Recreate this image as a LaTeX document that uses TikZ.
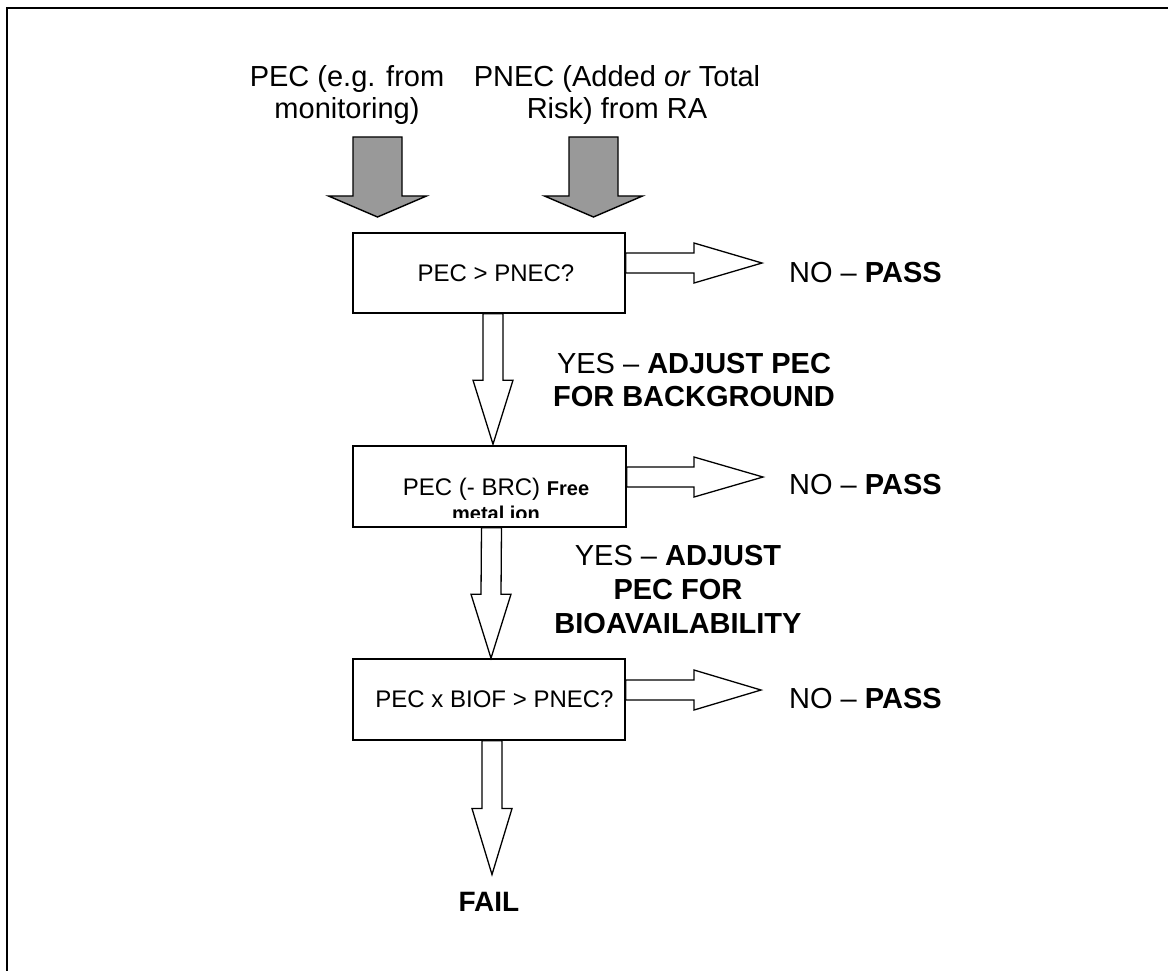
\documentclass[tikz,border=0pt]{standalone}
\usepackage{fontspec}
\setmainfont{Liberation Sans}
\usetikzlibrary{calc}
\definecolor{arrowgray}{RGB}{153,153,153}
% vertical block arrow: style, start, tip, shaft half width, head half width, head length
\newcommand{\vblockarrow}[6]{%
  \draw[#1] ($(#2)+(-#4,0)$) -- ($(#3)+(-#4,-#6)$) -- ($(#3)+(-#5,-#6)$) -- (#3)
    -- ($(#3)+(#5,-#6)$) -- ($(#3)+(#4,-#6)$) -- ($(#2)+(#4,0)$) -- cycle;}
% horizontal block arrow: style, start, tip, shaft half width, head half width, head length
\newcommand{\hblockarrow}[6]{%
  \draw[#1] ($(#2)+(0,-#4)$) -- ($(#3)+(-#6,-#4)$) -- ($(#3)+(-#6,-#5)$) -- (#3)
    -- ($(#3)+(-#6,#5)$) -- ($(#3)+(-#6,#4)$) -- ($(#2)+(0,#4)$) -- cycle;}
\begin{document}
\begin{tikzpicture}[x=1pt,y=-1pt,
  box/.style={draw,line width=1.6pt,minimum width=272pt,minimum height=80pt,inner sep=0pt,
    font=\fontsize{24}{28}\selectfont},
  big/.style={inner sep=0pt,font=\fontsize{29}{33}\selectfont,align=center},
  small/.style={inner sep=0pt,font=\fontsize{24}{28}\selectfont},
  hollow/.style={draw,fill=white,line width=1.3pt,line join=miter},
  solidgray/.style={draw,fill=arrowgray,line width=1.4pt,line join=miter},
  frame/.style={line width=2pt}]
\useasboundingbox (0,0) rectangle (1168,971);
\draw[frame] (7,971) -- (7,8.3) -- (1168,8.3);

% input texts (base anchor = baseline of the last line)
\node[big,anchor=base,font=\fontsize{29}{32}\selectfont] (t1) at (347,119) {PEC (e.g. from\\monitoring)};
\node[big,anchor=base,font=\fontsize{29}{32}\selectfont] (t2) at (617,119) {PNEC (Added \textit{or} Total\\Risk) from RA};

% boxes
\node[box] (b1) at (489,273) {\hspace*{14pt}PEC > PNEC?};
\node[box,minimum width=273pt,minimum height=81pt] (b2) at (489.5,486.5) {};
\node[box,minimum height=81pt] (b3) at (489,699.5) {\hspace*{11pt}PEC x BIOF > PNEC?};

\begin{scope}
  \clip (b2.north west) rectangle ($(b2.south east)+(0,-10)$);
  \node[small,anchor=base] (b2l1) at (496,495) {PEC (- BRC) {\bfseries\fontsize{20}{24}\selectfont Free}};
  \node[small,anchor=base,font=\bfseries\fontsize{20}{24}\selectfont] (b2l2) at (496,520) {metal ion};
\end{scope}

% outcome labels
\node[big,anchor=base west] (no1) at (789,282) {NO -- \textbf{PASS}};
\node[big,anchor=base west] (no2) at (789,494) {NO -- \textbf{PASS}};
\node[big,anchor=base west] (no3) at (789,708) {NO -- \textbf{PASS}};
\node[big,anchor=base,font=\fontsize{29}{33}\selectfont] (y1) at (694,406) {YES -- \textbf{ADJUST PEC}\\\textbf{FOR BACKGROUND}};
\node[big,anchor=base,font=\fontsize{29}{34}\selectfont] (y2) at (678,633) {YES -- \textbf{ADJUST}\\\textbf{PEC FOR}\\\textbf{BIOAVAILABILITY}};
\node[big,anchor=base,font=\bfseries\fontsize{28}{32}\selectfont] (fail) at (489,911) {FAIL};

% grey input arrows
\coordinate (g1s) at (377.5,137);
\coordinate (g1e) at (377.5,217);
\coordinate (g2s) at (593.5,137);
\coordinate (g2e) at (593.5,217);
\vblockarrow{solidgray}{g1s}{g1e}{24.5}{49}{21}
\vblockarrow{solidgray}{g2s}{g2e}{24.5}{49}{21}

% down arrows
\coordinate (d1s) at ($(b1.south)+(4,0)$);
\coordinate (d1e) at ($(b2.north)+(3.5,-1)$);
\coordinate (d2s) at ($(b2.south)+(2,0)$);
\coordinate (d2e) at ($(b3.north)+(2,0)$);
\coordinate (d3s) at ($(b3.south)+(3,0)$);
\coordinate (d3e) at ($(fail.north)+(3,-17)$);
\vblockarrow{hollow}{d1s}{d1e}{10}{20}{64}
\vblockarrow{hollow}{d2s}{d2e}{10}{20}{64}
\vblockarrow{hollow}{d3s}{d3e}{10}{20}{66}

% right arrows
\coordinate (r1e) at ($(no1.west)+(-27,-9)$);
\coordinate (r2e) at ($(no2.west)+(-26,-7)$);
\coordinate (r3e) at ($(no3.west)+(-28,-8)$);
\coordinate (r1s) at (b1.east |- r1e);
\coordinate (r2s) at (b2.east |- r2e);
\coordinate (r3s) at (b3.east |- r3e);
\hblockarrow{hollow}{r1s}{r1e}{10}{20}{68}
\hblockarrow{hollow}{r2s}{r2e}{10}{20}{69}
\hblockarrow{hollow}{r3s}{r3e}{10}{20}{67}
\end{tikzpicture}
\end{document}
